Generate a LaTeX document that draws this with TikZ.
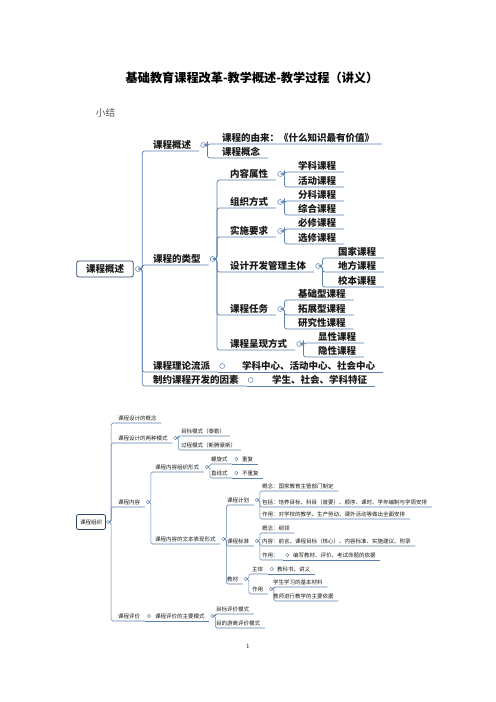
\documentclass[tikz,border=0pt]{standalone}
\usepackage{fontspec}
\usetikzlibrary{calc}
\newfontfamily\cjk{Noto Sans CJK SC}
\definecolor{linkC}{HTML}{5B7FAE}
\definecolor{rootC}{HTML}{2B4468}
\definecolor{inkC}{HTML}{1A1A1A}
\definecolor{mutedC}{HTML}{555555}
\tikzset{
  rootbox/.style={draw=rootC, line width=0.9pt, rounded corners=2.5pt, fill=white,
                  align=center, inner sep=0pt, text=inkC},
  topicA/.style={anchor=south west, inner xsep=2.4pt, inner ysep=1.4pt, text=inkC,
                 font=\cjk\bfseries\fontsize{11.4pt}{12pt}\selectfont,
                 execute at end node={\hspace*{7pt}}},
  topicB/.style={anchor=south west, inner xsep=2.4pt, inner ysep=2.2pt, text=inkC,
                 font=\cjk\fontsize{6.6pt}{7pt}\selectfont,
                 execute at end node={\hspace*{3pt}}},
  knobA/.style={circle, draw=linkC, line width=0.6pt, fill=white, inner sep=0pt,
                minimum size=6pt},
  knobB/.style={circle, draw=linkC, line width=0.5pt, fill=white, inner sep=0pt,
                minimum size=4pt},
  link/.style={draw=linkC, line width=0.9pt, rounded corners=3pt},
  linkB/.style={draw=linkC, line width=0.7pt, rounded corners=2pt},
}

\begin{document}
\begin{tikzpicture}[x=1.2pt, y=-1.2pt]
  \useasboundingbox (0,0) rectangle (496,702);

  \node[font=\cjk\bfseries\fontsize{14.6pt}{16pt}\selectfont] (title) at (252,78)
    {基础教育课程改革-教学概述-教学过程（讲义）};
  \node[anchor=west, text=mutedC, font=\cjk\fontsize{11.5pt}{12pt}\selectfont] (xj)
    at (93,113) {小结};

  % first map: curriculum overview
  \node[rootbox, minimum width=68pt, minimum height=19pt,
        font=\cjk\bfseries\fontsize{11.4pt}{12pt}\selectfont] (R1) at (105,269) {课程概述};
  \node[knobA] (R1k) at (138,269) {};

  \node[topicA] (gs) at (151,151) {课程概述};
  \node[topicA] (lx) at (151,265) {课程的类型};
  \node[topicA] (ll) at (151,372) {课程理论流派};
  \node[topicA] (ll2) at (240,372) {学科中心、活动中心、社会中心};
  \node[topicA] (zy) at (151,386) {制约课程开发的因素};
  \node[topicA] (zy2) at (270,386) {学生、社会、学科特征};
  \foreach \c in {gs,lx,ll,zy}
    \draw[link] (R1k.east) -- ++(1.5,0) |- (\c.south east);
  \draw[link] (ll.south east) -- (ll2.south east);
  \draw[link] (zy.south east) -- (zy2.south east);
  \node[knobA] (llk) at ($(ll.south east)+(4,-6)$) {};
  \node[knobA] (zyk) at ($(zy.south east)+(4,-6)$) {};

  \node[topicA] (gs1) at (220,144) {课程的由来：《什么知识最有价值》};
  \node[topicA] (gs2) at (220,158) {课程概念};
  \node[knobA] (gsk) at ($(gs.south east)+(4,-6)$) {};
  \foreach \c in {gs1,gs2}
    \draw[link] (gsk.east) -- ++(1.5,0) |- (\c.south east);

  % kinds of curriculum
  \node[topicA] (lx1) at (228,180) {内容属性};
  \node[topicA] (lx2) at (228,208) {组织方式};
  \node[topicA] (lx3) at (228,237) {实施要求};
  \node[topicA] (lx4) at (228,272) {设计开发管理主体};
  \node[topicA] (lx5) at (228,315) {课程任务};
  \node[topicA] (lx6) at (228,350) {课程呈现方式};
  \node[knobA] (lxk) at ($(lx.south east)+(4,-6)$) {};
  \foreach \c in {lx1,lx2,lx3,lx4,lx5,lx6}
    \draw[link] (lxk.east) -- ++(1.5,0) |- (\c.south east);

  \node[topicA] (a1) at (296,172) {学科课程};
  \node[topicA] (a2) at (296,187) {活动课程};
  \node[topicA] (b1) at (296,201) {分科课程};
  \node[topicA] (b2) at (296,215) {综合课程};
  \node[topicA] (c1) at (296,229) {必修课程};
  \node[topicA] (c2) at (296,244) {选修课程};
  \node[topicA] (d1) at (336,258) {国家课程};
  \node[topicA] (d2) at (336,272) {地方课程};
  \node[topicA] (d3) at (336,287) {校本课程};
  \node[topicA] (e1) at (296,300) {基础型课程};
  \node[topicA] (e2) at (296,315) {拓展型课程};
  \node[topicA] (e3) at (296,329) {研究性课程};
  \node[topicA] (f1) at (316,343) {显性课程};
  \node[topicA] (f2) at (316,357) {隐性课程};
  \foreach \p/\cs in {lx1/{a1,a2}, lx2/{b1,b2}, lx3/{c1,c2}, lx4/{d1,d2,d3},
                      lx5/{e1,e2,e3}, lx6/{f1,f2}} {
    \node[knobA] (\p k) at ($(\p.south east)+(4,-6)$) {};
    \foreach \c in \cs
      \draw[link] (\p k.east) -- ++(1.5,0) |- (\c.south east);
  }

  % second map: curriculum organisation
  \node[rootbox, minimum width=35pt, minimum height=18pt,
        font=\cjk\fontsize{6.6pt}{7pt}\selectfont] (R2) at (91,522) {课程组织};
  \node[knobB] (R2k) at (108,522) {};

  \node[topicB] (ga) at (116,423) {课程设计的概念};
  \node[topicB] (ms) at (116,443) {课程设计的两种模式};
  \node[topicB] (nr) at (116,507) {课程内容};
  \node[topicB] (pj) at (116,621) {课程评价};
  \node[topicB] (pj2) at (153,621) {课程评价的主要模式};
  \foreach \c in {ga,ms,nr,pj}
    \draw[linkB] (R2k.east) -- ++(1.2,0) |- (\c.south east);
  \draw[linkB] (pj.south east) -- (pj2.south east);
  \node[knobB] (pjk) at ($(pj.south east)+(4,-5)$) {};

  \node[topicB] (ms1) at (179,436) {目标模式（泰勒）};
  \node[topicB] (ms2) at (179,450) {过程模式（斯腾豪斯）};
  \node[topicB] (nr1) at (153,472) {课程内容组织形式};
  \node[topicB] (nr2) at (153,544) {课程内容的文本表现形式};
  \node[topicB] (lw1) at (209,464) {螺旋式};
  \node[topicB] (lw2) at (240,464) {重复};
  \node[topicB] (zx1) at (209,478) {直线式};
  \node[topicB] (zx2) at (240,478) {不重复};
  \node[topicB] (jh) at (225,505) {课程计划};
  \node[topicB] (bz) at (225,546) {课程标准};
  \node[topicB] (jc) at (225,584) {教材};
  \node[topicB] (jh1) at (260,491) {概念：国家教育主管部门制定};
  \node[topicB] (jh2) at (260,507) {包括：培养目标、科目（首要）、顺序、课时、学年编制与学周安排};
  \node[topicB] (jh3) at (260,519) {作用：对学校的教学、生产劳动、课外活动等做出全面安排};
  \node[topicB] (bz1) at (260,533) {概念：纲领};
  \node[topicB] (bz2) at (260,546) {内容：前言、课程目标（核心）、内容标准、实施建议、附录};
  \node[topicB] (bz3) at (260,560) {作用：};
  \node[topicB] (bz4) at (291,560) {编写教材、评价、考试命题的依据};
  \node[topicB] (jc1) at (250,574) {主体};
  \node[topicB] (jc2) at (275,574) {教科书、讲义};
  \node[topicB] (jc3) at (250,594) {作用};
  \node[topicB] (jc4) at (271,587) {学生学习的基本材料};
  \node[topicB] (jc5) at (271,601) {教师进行教学的主要依据};
  \node[topicB] (pm1) at (214,614) {目标评价模式};
  \node[topicB] (pm2) at (214,628) {目的游离评价模式};
  \foreach \a/\b in {lw1/lw2, zx1/zx2, bz3/bz4, jc1/jc2} {
    \draw[linkB] (\a.south east) -- (\b.south east);
    \node[knobB] (\a k) at ($(\a.south east)+(4,-5)$) {};
  }
  \foreach \p/\cs in {ms/{ms1,ms2}, nr/{nr1,nr2}, nr1/{lw1,zx1}, nr2/{jh,bz,jc},
                      jh/{jh1,jh2,jh3}, bz/{bz1,bz2,bz3}, jc/{jc1,jc3},
                      jc3/{jc4,jc5}, pj2/{pm1,pm2}} {
    \node[knobB] (\p k) at ($(\p.south east)+(3,-5)$) {};
    \foreach \c in \cs
      \draw[linkB] (\p k.east) -- ++(1.2,0) |- (\c.south east);
  }

  \node[font=\fontsize{8pt}{9pt}\selectfont] (pg) at (248,646) {1};
\end{tikzpicture}
\end{document}
